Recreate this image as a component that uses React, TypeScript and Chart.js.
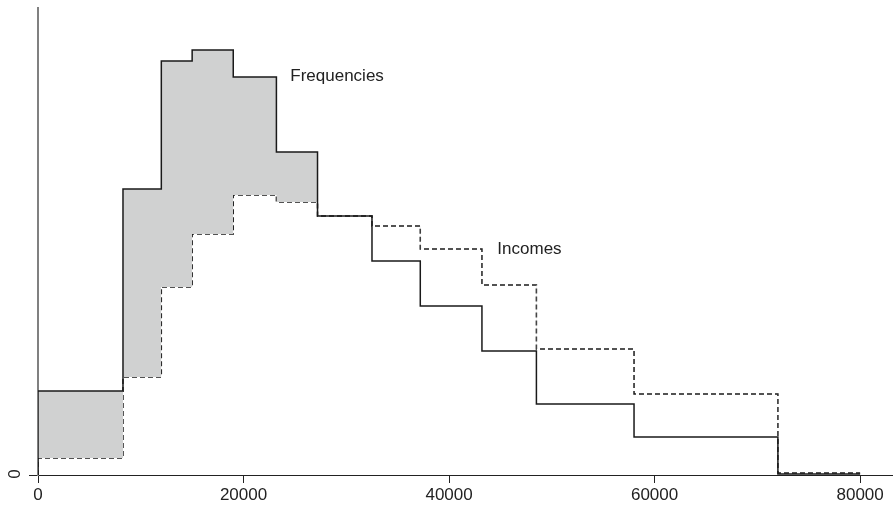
import React, { useEffect, useRef } from "react";
import { Chart, registerables } from "chart.js";

Chart.register(...registerables);

// Bin edges (income)
const binEdges = [0, 8270, 12000, 15000, 19000, 23200, 27200, 32500, 37200, 43200, 48500, 58000, 72000, 80000];
// Density heights per bin (arbitrary units)
const frequencies = [84, 286, 414, 425, 398, 323, 259, 214, 169, 124, 71, 38, 1];
const incomes = [17, 98, 188, 241, 280, 273, 259, 249, 226, 190, 126, 81, 2];
const xTicks = [0, 20000, 40000, 60000, 80000];
const yTicks = [0];
const seriesLabels = [
  { text: "Frequencies", x: 24550, y: 394 },
  { text: "Incomes", x: 44700, y: 221 },
];

function stepPoints(values: number[]) {
  const pts = [{ x: binEdges[0], y: 0 }];
  values.forEach((v, i) => pts.push({ x: binEdges[i], y: v }));
  pts.push({ x: binEdges[binEdges.length - 1], y: values[values.length - 1] });
  return pts;
}

const FONT = "'Liberation Sans', Arial, Helvetica, sans-serif";

const labelPlugin = {
  id: "seriesLabels",
  afterDatasetsDraw(chart: any) {
    const { ctx, scales } = chart;
    ctx.save();
    ctx.font = `17px ${FONT}`;
    ctx.fillStyle = "#222";
    ctx.textBaseline = "alphabetic";
    ctx.textAlign = "left";
    seriesLabels.forEach((l) => {
      ctx.fillText(l.text, scales.x.getPixelForValue(l.x), scales.y.getPixelForValue(l.y));
    });
    // y tick labels, rotated
    yTicks.forEach((v) => {
      ctx.save();
      ctx.translate(15, scales.y.getPixelForValue(v) - 1);
      ctx.rotate(-Math.PI / 2);
      ctx.textAlign = "center";
      ctx.textBaseline = "middle";
      ctx.fillText(String(v), 0, 0);
      ctx.restore();
    });
    ctx.restore();
  },
};

export default function App() {
  const ref = useRef<HTMLCanvasElement>(null);
  useEffect(() => {
    document.body.style.margin = "0";
    const chart = new Chart(ref.current!, {
      type: "line",
      data: {
        datasets: [
          {
            label: "Frequencies",
            data: stepPoints(frequencies),
            stepped: "before",
            borderColor: "#1a1a1a",
            borderWidth: 1.5,
            pointRadius: 0,
            fill: { target: 1, above: "#d0d1d1", below: "rgba(0,0,0,0)" },
          },
          {
            label: "Incomes",
            data: stepPoints(incomes),
            stepped: "before",
            borderColor: "#1a1a1a",
            borderWidth: 1.5,
            borderDash: [5, 3],
            pointRadius: 0,
            fill: false,
          },
        ],
      },
      options: {
        responsive: false,
        animation: false,
        layout: { padding: { top: 8, right: 0, left: 0, bottom: 0 } },
        plugins: { legend: { display: false }, tooltip: { enabled: false } },
        scales: {
          x: {
            type: "linear",
            min: 0,
            max: 83200,
            afterBuildTicks: (s: any) => {
              s.ticks = xTicks.map((v) => ({ value: v }));
            },
            afterFit: (s: any) => {
              s.height = 31;
            },
            grid: { drawOnChartArea: false, tickLength: 8, color: "#222", lineWidth: 1 },
            border: { display: true, color: "#222", width: 1 },
            ticks: {
              font: { family: FONT, size: 17 },
              color: "#222",
              padding: 2,
              maxRotation: 0,
              minRotation: 0,
              callback: (v: any) => String(v),
            },
          },
          y: {
            type: "linear",
            min: 0,
            max: 467,
            afterBuildTicks: (s: any) => {
              s.ticks = yTicks.map((v) => ({ value: v }));
            },
            afterFit: (s: any) => {
              s.width = 38;
            },
            grid: { drawOnChartArea: false, tickLength: 9, color: "#222", lineWidth: 1 },
            border: { display: true, color: "#808080", width: 2 },
            ticks: {
              display: false,
            },
          },
        },
      },
      plugins: [labelPlugin],
    });
    return () => chart.destroy();
  }, []);
  return (
    <div style={{ position: "absolute", left: 0, top: 0, width: 893, height: 506 }}>
      <canvas ref={ref} width={893} height={506} />
    </div>
  );
}
